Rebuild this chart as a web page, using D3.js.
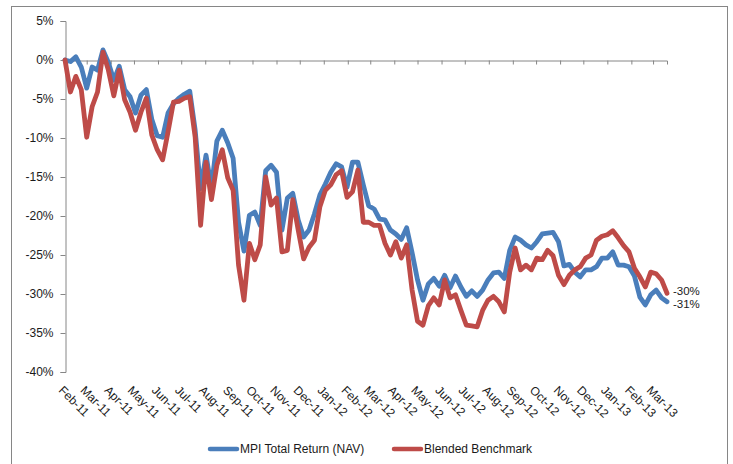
<!DOCTYPE html>
<html>
<head>
<meta charset="utf-8">
<script src="https://cdn.jsdelivr.net/npm/d3@7/dist/d3.min.js"></script>
<style>
  html, body { margin: 0; padding: 0; background: #fff; }
  svg { display: block; font-family: "Liberation Sans", Arial, sans-serif; }
</style>
</head>
<body>
<svg id="chart" width="733" height="464"></svg>
<script>
// Weekly observations starting 1 Feb 2011 (cumulative return, %)
const startDate = new Date(2011, 1, 1);
const stepDays = 7;

const mpiNav = [
  0.0, -0.2, 0.4, -0.9, -3.6, -0.9, -1.3, 1.3, -0.3, -2.6,
  -0.8, -3.8, -4.7, -6.8, -4.5, -3.8, -7.6, -9.7, -9.9, -6.8,
  -5.6, -4.9, -4.4, -4.0, -9.0, -16.5, -12.2, -16.4, -10.4, -9.0,
  -10.6, -12.6, -20.8, -24.5, -19.9, -19.5, -21.2, -14.2, -13.5, -14.4,
  -21.8, -17.7, -17.1, -20.5, -22.7, -21.8, -19.7, -17.3, -15.9, -14.4,
  -13.3, -13.7, -16.3, -13.1, -13.1, -16.0, -18.7, -19.1, -20.4, -20.5,
  -21.8, -22.3, -23.0, -21.5, -24.7, -28.2, -30.8, -28.7, -28.0, -29.0,
  -27.6, -29.2, -27.7, -29.1, -30.3, -29.6, -30.3, -29.5, -28.2, -27.3,
  -27.2, -28.0, -24.4, -22.7, -23.1, -23.7, -24.1, -23.3, -22.3, -22.2,
  -22.1, -23.3, -26.4, -26.2, -27.2, -27.8, -26.9, -26.9, -26.5, -25.4,
  -25.4, -24.6, -26.3, -26.3, -26.5, -27.7, -30.4, -31.4, -30.1, -29.5,
  -30.5, -31.0
];

const blendedBenchmark = [
  0.0, -4.1, -2.1, -3.8, -9.9, -6.0, -4.1, 1.0, -1.3, -4.6,
  -1.3, -5.1, -6.7, -9.0, -6.7, -4.9, -9.6, -11.5, -12.8, -9.2,
  -5.4, -5.3, -4.9, -4.7, -9.9, -21.2, -13.1, -17.9, -13.5, -11.5,
  -15.1, -16.7, -26.3, -30.8, -23.5, -25.6, -23.7, -15.0, -18.6, -17.7,
  -24.6, -24.4, -17.9, -21.8, -25.5, -24.0, -23.1, -18.8, -16.7, -16.0,
  -14.7, -14.2, -17.6, -16.9, -14.1, -20.8, -20.8, -21.2, -21.2, -23.5,
  -25.0, -23.3, -25.4, -23.7, -29.5, -33.5, -34.0, -31.5, -30.5, -31.4,
  -28.2, -30.5, -30.1, -32.1, -34.0, -34.1, -34.2, -32.1, -30.8, -30.3,
  -31.0, -32.3, -27.2, -24.1, -26.9, -26.3, -26.9, -25.4, -25.6, -24.4,
  -25.1, -27.6, -28.8, -27.6, -26.9, -26.5, -25.4, -25.0, -23.1, -22.6,
  -22.4, -21.9, -22.8, -23.8, -24.6, -26.7, -27.8, -29.1, -27.2, -27.4,
  -28.2, -29.9
];

const seriesNames = ["MPI Total Return (NAV)", "Blended Benchmark"];
const seriesColors = ["#4a7ebb", "#be4b48"];
const endLabels = ["-31%", "-30%"];
const yTicks = [5, 0, -5, -10, -15, -20, -25, -30, -35, -40];

const dates = mpiNav.map((_, i) => d3.timeDay.offset(startDate, i * stepDays));
const series = [mpiNav, blendedBenchmark].map((vals, s) => ({
  name: seriesNames[s],
  color: seriesColors[s],
  label: endLabels[s],
  points: vals.map((v, i) => ({ date: dates[i], value: v }))
}));

const svg = d3.select("#chart");
const axisColor = "#868686";
const textColor = "#1a1a1a";

// chart frame
svg.append("rect")
  .attr("x", 11.5).attr("y", 6.5)
  .attr("width", 716).attr("height", 470)
  .attr("fill", "#fff").attr("stroke", axisColor).attr("stroke-width", 1);

const x = d3.scaleTime()
  .domain([startDate, dates[dates.length - 1]])
  .range([65, 667]);
const y = d3.scaleLinear().domain([-40, 5]).range([372, 21]);

// y axis
const yAxis = svg.append("g").attr("transform", "translate(65.5,0)")
  .call(d3.axisLeft(y).tickValues(yTicks).tickSize(5).tickPadding(7)
    .tickFormat(d => d + "%"));
yAxis.select(".domain").attr("stroke", axisColor);
yAxis.selectAll(".tick line").attr("stroke", axisColor);
yAxis.selectAll(".tick text")
  .attr("font-size", 12).attr("fill", textColor)
  .attr("font-family", "Liberation Sans, Arial, sans-serif");

// x axis along the zero line
const monthTicks = d3.timeMonth.range(startDate, d3.timeDay.offset(x.domain()[1], 1));
const xAxis = svg.append("g").attr("transform", `translate(0,${y(0) + 0.5})`)
  .call(d3.axisBottom(x).tickValues(monthTicks).tickSize(4).tickFormat(""));
xAxis.select(".domain").attr("stroke", axisColor);
xAxis.selectAll(".tick line").attr("stroke", axisColor);

// month labels, rotated, under the plot
const fmt = d3.timeFormat("%b-%y");
svg.append("g").selectAll("text")
  .data(monthTicks)
  .join("text")
  .attr("transform", d => `translate(${x(d) - 7},${391}) rotate(45)`)
  .attr("font-size", 12)
  .attr("fill", textColor)
  .text(d => fmt(d));

// series lines
const line = d3.line()
  .x(d => x(d.date))
  .y(d => y(d.value))
  .curve(d3.curveLinear);

svg.append("g").selectAll("path")
  .data(series)
  .join("path")
  .attr("d", d => line(d.points))
  .attr("fill", "none")
  .attr("stroke", d => d.color)
  .attr("stroke-width", 4.8)
  .attr("stroke-linejoin", "round")
  .attr("stroke-linecap", "round");

// end-of-series value labels, nudged apart so they do not collide
svg.append("g").selectAll("text")
  .data(series)
  .join("text")
  .attr("x", d => x(d.points[d.points.length - 1].date) + 6)
  .attr("y", d => y(d.points[d.points.length - 1].value) + (d.label === "-31%" ? 2.5 : -2.5))
  .attr("dy", "0.35em")
  .attr("font-size", 11.5)
  .attr("fill", textColor)
  .text(d => d.label);

// legend
const legend = svg.append("g");
const legendItems = [
  { x: 209, s: series[0] },
  { x: 393, s: series[1] }
];
legendItems.forEach(it => {
  const g = legend.append("g").attr("transform", `translate(${it.x},449)`);
  g.append("line").attr("x1", 1).attr("x2", 28).attr("y1", 0).attr("y2", 0)
    .attr("stroke", it.s.color).attr("stroke-width", 4.5).attr("stroke-linecap", "round");
  g.append("text").attr("x", 31).attr("dy", "0.35em")
    .attr("font-size", 12).attr("fill", textColor).text(it.s.name);
});
</script>
</body>
</html>
